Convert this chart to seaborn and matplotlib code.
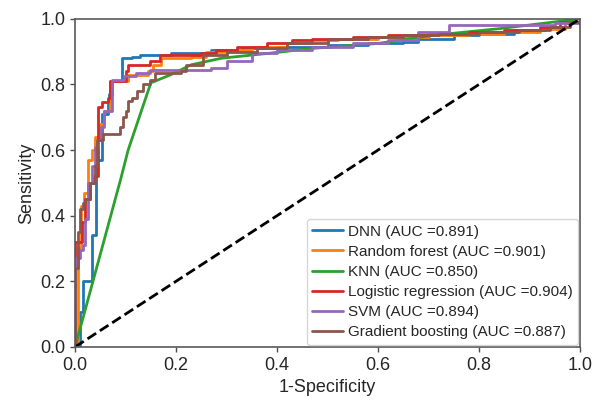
import matplotlib
matplotlib.use("Agg")
import matplotlib.pyplot as plt
import seaborn as sns

# ROC points (fpr, tpr); step curves use steps-post
dnn_fpr = [0, 0.01, 0.016, 0.033, 0.042, 0.053, 0.065, 0.068, 0.073, 0.093, 0.113, 0.128, 0.19,
           0.27, 0.33, 0.4, 0.5, 0.58, 0.65, 0.68, 0.75, 0.8, 0.87, 0.93, 0.97, 1.0]
dnn_tpr = [0, 0.107, 0.2, 0.34, 0.57, 0.71, 0.74, 0.77, 0.81, 0.88, 0.885, 0.89, 0.895,
           0.905, 0.91, 0.915, 0.92, 0.925, 0.93, 0.94, 0.95, 0.955, 0.965, 0.975, 0.99, 1.0]

rf_fpr = [0, 0.005, 0.012, 0.018, 0.026, 0.033, 0.04, 0.05, 0.058, 0.07, 0.105, 0.145, 0.155, 0.17,
          0.23, 0.26, 0.3, 0.35, 0.42, 0.47, 0.52, 0.6, 0.7, 0.78, 0.85, 0.92, 0.97, 1.0]
rf_tpr = [0, 0.3, 0.43, 0.47, 0.57, 0.6, 0.64, 0.68, 0.72, 0.81, 0.83, 0.84, 0.86, 0.88,
          0.885, 0.9, 0.905, 0.915, 0.925, 0.935, 0.94, 0.945, 0.95, 0.955, 0.96, 0.97, 0.99, 1.0]

knn_fpr = [0, 0.09, 0.105, 0.15, 0.19, 0.23, 0.29, 0.39, 0.47, 0.6, 0.71, 0.84, 1.0]
knn_tpr = [0, 0.51, 0.6, 0.805, 0.83, 0.86, 0.88, 0.896, 0.91, 0.925, 0.95, 0.97, 1.0]

lr_fpr = [0, 0, 0.014, 0.02, 0.03, 0.038, 0.046, 0.053, 0.065, 0.07, 0.1, 0.105, 0.148, 0.168,
          0.25, 0.28, 0.32, 0.38, 0.43, 0.47, 0.55, 0.62, 0.7, 0.78, 0.85, 0.92, 0.96, 1.0]
lr_tpr = [0, 0.32, 0.38, 0.45, 0.5, 0.52, 0.73, 0.745, 0.76, 0.81, 0.84, 0.86, 0.87, 0.89,
          0.896, 0.905, 0.915, 0.925, 0.935, 0.94, 0.945, 0.95, 0.955, 0.96, 0.965, 0.975, 0.99, 1.0]

svm_fpr = [0, 0, 0.01, 0.016, 0.02, 0.026, 0.033, 0.04, 0.045, 0.052, 0.058, 0.073, 0.096, 0.12,
           0.148, 0.27, 0.3, 0.35, 0.4, 0.47, 0.55, 0.62, 0.68, 0.74, 0.95, 1.0]
svm_tpr = [0, 0.27, 0.296, 0.31, 0.39, 0.5, 0.55, 0.61, 0.63, 0.67, 0.72, 0.815, 0.825, 0.835,
           0.845, 0.85, 0.87, 0.895, 0.905, 0.915, 0.925, 0.935, 0.96, 0.98, 0.988, 1.0]

gb_fpr = [0, 0, 0.005, 0.01, 0.016, 0.02, 0.03, 0.04, 0.044, 0.055, 0.089, 0.095, 0.1, 0.105, 0.113,
          0.122, 0.135, 0.148, 0.158, 0.21, 0.22, 0.254, 0.3, 0.36, 0.42, 0.5, 0.58, 0.65, 0.72,
          0.8, 0.88, 0.94, 0.98, 1.0]
gb_tpr = [0, 0.24, 0.35, 0.42, 0.44, 0.45, 0.5, 0.55, 0.63, 0.65, 0.67, 0.7, 0.72, 0.75, 0.76,
          0.78, 0.8, 0.815, 0.835, 0.84, 0.86, 0.89, 0.9, 0.91, 0.925, 0.94, 0.945, 0.95, 0.955,
          0.96, 0.965, 0.975, 0.99, 1.0]

labels = ["DNN (AUC =0.891)", "Random forest (AUC =0.901)", "KNN (AUC =0.850)",
          "Logistic regression (AUC =0.904)", "SVM (AUC =0.894)", "Gradient boosting (AUC =0.887)"]

chance_x = [0, 1]
chance_y = [0, 1]

sns.set_theme(style="ticks")
plt.rcParams["font.family"] = ["Liberation Sans", "DejaVu Sans"]
colors = sns.color_palette("tab10")

fig, ax = plt.subplots(figsize=(6.06, 4.01), dpi=100)
fig.subplots_adjust(left=0.124, right=0.957, bottom=0.135, top=0.953)

curves = [(dnn_fpr, dnn_tpr, "steps-post"), (rf_fpr, rf_tpr, "steps-post"),
          (knn_fpr, knn_tpr, "default"), (lr_fpr, lr_tpr, "steps-post"),
          (svm_fpr, svm_tpr, "steps-post"), (gb_fpr, gb_tpr, "steps-post")]
for i, (fx, ty, ds) in enumerate(curves):
    sns.lineplot(x=fx, y=ty, estimator=None, sort=False, drawstyle=ds,
                 color=colors[i], lw=2, label=labels[i], ax=ax)

sns.lineplot(x=chance_x, y=chance_y, estimator=None, sort=False, color="black",
             lw=2, linestyle="--", ax=ax)

ax.set_xlim(0, 1)
ax.set_ylim(0, 1)
ax.set_xticks([0, 0.2, 0.4, 0.6, 0.8, 1.0])
ax.set_yticks([0, 0.2, 0.4, 0.6, 0.8, 1.0])
ax.set_xlabel("1-Specificity", fontsize=13)
ax.set_ylabel("Sensitivity", fontsize=13)
ax.tick_params(labelsize=13, length=3.5, width=1, color="0.3")
for s in ax.spines.values():
    s.set_color("0.35")
    s.set_linewidth(1.2)

ax.legend(loc="lower right", fontsize=11, borderaxespad=0.15, labelspacing=0.4,
          handletextpad=0.3, borderpad=0.35)

fig.savefig("out.png", dpi=100)
